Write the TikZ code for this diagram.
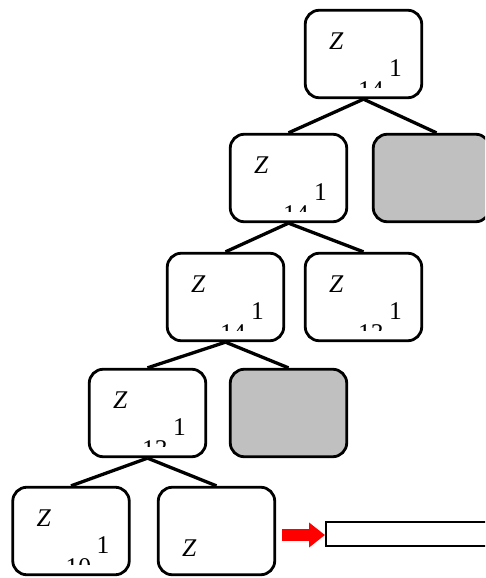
\documentclass[tikz,border=0pt]{standalone}
\usepackage{fontspec}
\setmainfont{Liberation Serif}
\usetikzlibrary{calc,arrows.meta}
\definecolor{boxgray}{RGB}{192,192,192}

\tikzset{
  cell/.style={draw, line width=2.8pt, rounded corners=14pt, fill=white,
    minimum width=116.5pt, minimum height=87.5pt, inner sep=0pt},
  shaded/.style={cell, fill=boxgray},
  link/.style={line width=3.3pt},
  lbl/.style={inner sep=0pt, anchor=base west, font=\fontsize{25.5}{30}\selectfont},
  bar/.style={draw, line width=2pt, fill=white, minimum width=200pt,
    minimum height=24pt, inner sep=0pt, anchor=north west},
  pointer/.style={draw=red, line width=12pt, -{Triangle[length=16pt,width=24pt]}}
}

% Z, the superscript 1 and a subscript cut off at the lower edge
\newcommand\cellmark[2]{%
  \node[lbl] (#1z) at ($(#1.north west)+(25,41)$) {\textit{Z}};
  \node[lbl] (#1e) at ($(#1.north west)+(85,68)$) {1};
  \begin{scope}
    \clip ($(#1.north west)+(3,0)$) rectangle ($(#1.north east)+(-3,79)$);
    \node[lbl] (#1n) at ($(#1.north west)+(54,90)$) {#2};
  \end{scope}}

\begin{document}
\begin{tikzpicture}[x=1pt, y=-1pt]
  \useasboundingbox (0,0) rectangle (485,578);
  \clip (0,0) rectangle (485,578);

  % tree cells
  \node[cell]   (b1) at (363.5,54)  {};
  \node[cell]   (b2) at (288.5,178) {};
  \node[shaded] (b3) at (431.5,178) {};
  \node[cell]   (b4) at (225.5,297) {};
  \node[cell]   (b5) at (363.5,297) {};
  \node[cell]   (b6) at (147.5,413) {};
  \node[shaded] (b7) at (288.5,413) {};
  \node[cell]   (b8) at (71,531)    {};
  \node[cell]   (b9) at (216.5,531) {};

  % branches
  \draw[link] (b1.south) -- (b2.north);
  \draw[link] (b1.south) -- ($(b3.north)+(5,0)$);
  \draw[link] (b2.south) -- (b4.north);
  \draw[link] (b2.south) -- (b5.north);
  \draw[link] (b4.south) -- (b6.north);
  \draw[link] (b4.south) -- (b7.north);
  \draw[link] (b6.south) -- (b8.north);
  \draw[link] (b6.south) -- (b9.north);

  % labels
  \cellmark{b1}{14}
  \cellmark{b2}{14}
  \cellmark{b4}{14}
  \cellmark{b5}{13}
  \cellmark{b6}{13}
  \cellmark{b8}{10}
  \node[lbl] (b9z) at ($(b9.north west)+(25,71)$) {\textit{Z}};

  % output bar and red pointer
  \node[bar] (out) at (325,521) {};
  \coordinate (pstart) at (282,535);
  \draw[pointer] (pstart) -- (out.west |- pstart);
\end{tikzpicture}
\end{document}
